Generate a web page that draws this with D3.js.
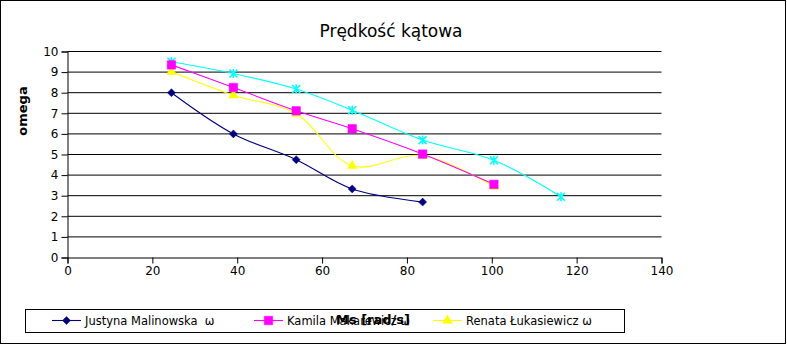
<!DOCTYPE html>
<html><head><meta charset="utf-8">
<script src="https://cdn.jsdelivr.net/npm/d3@7"></script>
<style>body{margin:0;background:#fff}svg{display:block}text{font-family:"DejaVu Sans",sans-serif;white-space:pre}</style>
</head><body>
<svg id="c" width="787" height="345"></svg>
<script>
const title = "Prędkość kątowa";
const xTitle = "Ms [rad/s]";
const yTitle = "omega";
const xValues = [24.5, 39.1, 53.9, 67.1, 83.7, 100.5, 116.3];
const justyna = [8.0, 6.0, 4.75, 3.33, 2.69];
const kamila = [9.35, 8.25, 7.12, 6.25, 5.02, 3.55];
const renata = [9.02, 7.88, 6.98, 4.45, 4.95, 3.45];
const fourth = [9.5, 8.93, 8.18, 7.15, 5.7, 4.72, 2.95];
const seriesNames = ["Justyna Malinowska  ω", "Kamila Makarewicz ω", "Renata Łukasiewicz ω"];
const xTicks = [0, 20, 40, 60, 80, 100, 120, 140];
const yTicks = [0,1,2,3,4,5,6,7,8,9,10];

const svg = d3.select("#c");
svg.append("rect").attr("x",0.5).attr("y",0.5).attr("width",785).attr("height",343)
  .attr("fill","#fff").attr("stroke","#000").attr("stroke-width",1);

const x = d3.scaleLinear().domain([0,140]).range([67.5,661.5]);
const y = d3.scaleLinear().domain([0,10]).range([257.5,51.5]);

svg.append("g").selectAll("line").data(yTicks.filter(d=>d>0)).join("line")
  .attr("x1",x(0)).attr("x2",x(140)).attr("y1",d=>y(d)).attr("y2",d=>y(d))
  .attr("stroke","#000").attr("stroke-width",1);

const yAxis = svg.append("g").attr("transform",`translate(${x(0)},0)`)
  .call(d3.axisLeft(y).tickValues(yTicks).tickSize(6).tickPadding(3).tickFormat(d3.format("d")));
const xAxis = svg.append("g").attr("transform",`translate(0,${y(0)})`)
  .call(d3.axisBottom(x).tickValues(xTicks).tickSize(6).tickPadding(3).tickFormat(d3.format("d")));
[xAxis,yAxis].forEach(a=>{
  a.select(".domain").attr("stroke","#000").attr("stroke-width",1);
  a.selectAll(".tick line").attr("stroke","#000");
  a.selectAll("text").attr("font-size",12).attr("fill","#000").attr("font-family","DejaVu Sans");
});

svg.append("text").attr("x",391).attr("y",37).attr("text-anchor","middle")
  .attr("font-size",17).text(title);
svg.append("text").attr("transform","translate(27,111) rotate(-90)").attr("text-anchor","middle")
  .attr("font-size",13).attr("font-weight","bold").text(yTitle);

const line = d3.line().x(d=>x(d[0])).y(d=>y(d[1])).curve(d3.curveCatmullRom.alpha(0.5));
function pts(vals){ return vals.map((v,i)=>[xValues[i], v]); }

const diamond = "M0,-4L4,0L0,4L-4,0Z";
const square = d3.symbol().type(d3.symbolSquare).size(72)();
const triangle = d3.symbol().type(d3.symbolTriangle).size(40)();
const star = "M-4,-4L4,4M-4,4L4,-4M0,-4.5L0,4.5";

const series = [
  {vals: justyna, color:"#000080", marker:diamond, fillM:true},
  {vals: renata, color:"#FFFF00", marker:triangle, fillM:true},
  {vals: fourth, color:"#00FFFF", marker:star, fillM:false},
  {vals: kamila, color:"#FF00FF", marker:square, fillM:true}
];
series.forEach(s=>{
  const g = svg.append("g");
  g.append("path").attr("d",line(pts(s.vals))).attr("fill","none").attr("stroke",s.color).attr("stroke-width",1.1);
  g.selectAll("path.m").data(pts(s.vals)).join("path").attr("class","m")
    .attr("transform",d=>`translate(${x(d[0])},${y(d[1])})`).attr("d",s.marker)
    .attr("fill",s.fillM?s.color:"none").attr("stroke",s.color).attr("stroke-width",s.fillM?0.5:1.6);
});

const lg = svg.append("g");
lg.append("rect").attr("x",25.5).attr("y",309.5).attr("width",599).attr("height",23)
  .attr("fill","#fff").attr("stroke","#000").attr("stroke-width",1);
const legendItems = [
  {name: seriesNames[0], color:"#000080", marker:diamond, x0:52},
  {name: seriesNames[1], color:"#FF00FF", marker:square, x0:254},
  {name: seriesNames[2], color:"#FFFF00", marker:triangle, x0:433}
];
legendItems.forEach(it=>{
  lg.append("line").attr("x1",it.x0).attr("x2",it.x0+29).attr("y1",320.5).attr("y2",320.5)
    .attr("stroke",it.color).attr("stroke-width",1.1);
  lg.append("path").attr("d",it.marker).attr("transform",`translate(${it.x0+14.5},320.5)`)
    .attr("fill",it.color).attr("stroke",it.color).attr("stroke-width",0.5);
  lg.append("text").attr("x",it.x0+33).attr("y",325).attr("font-size",11.5).attr("fill","#000").text(it.name);
});

svg.append("text").attr("x",373).attr("y",324).attr("text-anchor","middle")
  .attr("font-size",13).attr("font-weight","bold").text(xTitle);
</script>
</body></html>
